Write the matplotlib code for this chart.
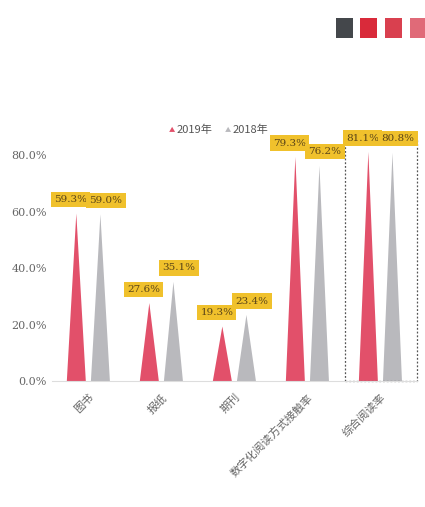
import matplotlib.pyplot as plt
from matplotlib.patches import Polygon, Rectangle

plt.rcParams['font.family'] = ['Noto Sans CJK SC', 'DejaVu Sans']

# categories and values (%)
categories = ['图书', '报纸', '期刊', '数字化阅读方式接触率', '综合阅读率']
rate_2019 = [59.3, 27.6, 19.3, 79.3, 81.1]
rate_2018 = [59.0, 35.1, 23.4, 76.2, 80.8]
yticks = [0, 20, 40, 60, 80]

red = '#e2506a'
gray = '#b9b9bd'
gold = '#f0c12c'

fig = plt.figure(figsize=(4.25, 5.07), dpi=100)
ax = fig.add_axes([0.122, 0.2485, 0.859, 0.5015])

half_w = 0.13
off = 0.165


def triangle(x, h, color):
    ax.add_patch(Polygon([(x - half_w, 0), (x + half_w, 0), (x, h)],
                         closed=True, facecolor=color, edgecolor='none'))


for i in range(len(categories)):
    xr = i - off
    xg = i + off
    triangle(xr, rate_2019[i], red)
    triangle(xg, rate_2018[i], gray)
    ax.annotate(f'{rate_2019[i]:.1f}%', (xr, rate_2019[i]), xytext=(-4, 10),
                textcoords='offset points', ha='center', va='center',
                fontsize=7.5, color='#5a4418', family=['DejaVu Serif'],
                bbox=dict(boxstyle='square,pad=0.3', fc=gold, ec='none'))
    ax.annotate(f'{rate_2018[i]:.1f}%', (xg, rate_2018[i]), xytext=(4, 10),
                textcoords='offset points', ha='center', va='center',
                fontsize=7.5, color='#5a4418', family=['DejaVu Serif'],
                bbox=dict(boxstyle='square,pad=0.3', fc=gold, ec='none'))

# dashed box around the last group
ax.add_patch(Rectangle((3.52, 0), 0.98, 85.5, fill=False, ec='#555555',
                       ls=(0, (1.5, 1.5)), lw=0.9, clip_on=False))

ax.set_xlim(-0.5, 4.5)
ax.set_ylim(0, 90)
ax.set_yticks(yticks)
ax.set_yticklabels([f'{v:.1f}%' for v in yticks], family=['DejaVu Serif'])
ax.set_xticks(range(len(categories)))
ax.set_xticklabels(categories, rotation=45, ha='right', rotation_mode='anchor')
ax.tick_params(axis='both', length=0, colors='#666666', labelsize=8)
ax.tick_params(axis='x', pad=8)
for s in ['top', 'right', 'left']:
    ax.spines[s].set_visible(False)
ax.spines['bottom'].set_color('#dddddd')

# legend
fig.text(0.405, 0.743, '▲', color=red, fontsize=4.5, ha='center', va='center')
fig.text(0.415, 0.743, '2019年', color='#555555', fontsize=8, va='center')
fig.text(0.537, 0.743, '▲', color=gray, fontsize=4.5, ha='center', va='center')
fig.text(0.547, 0.743, '2018年', color='#555555', fontsize=8, va='center')

# colour swatches top right
swatches = ['#44474b', '#d92a3a', '#d9404f', '#e06a78']
for k, c in enumerate(swatches):
    fig.patches.append(Rectangle((0.79 + k * 0.058, 0.925), 0.04, 0.04,
                                 transform=fig.transFigure, fc=c, ec='none'))

fig.savefig('out.png', dpi=100)
